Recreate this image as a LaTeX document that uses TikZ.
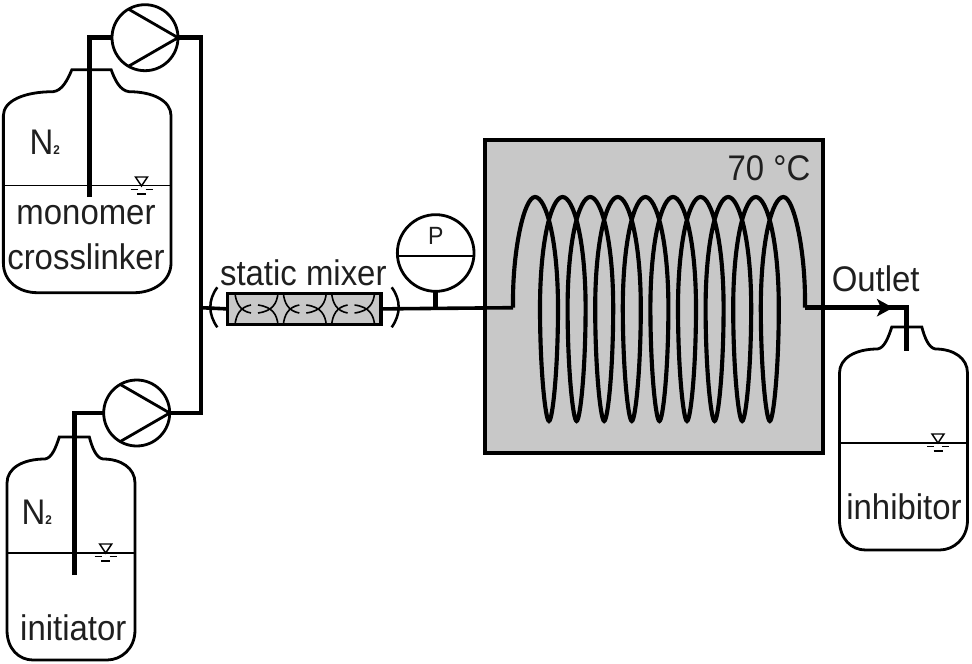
\documentclass[tikz,border=0pt]{standalone}
\usepackage{fontspec}
\setmainfont[FakeStretch=0.925]{Liberation Sans}
\usetikzlibrary{arrows.meta}

\tikzset{every picture/.style={line width=0.75pt}}
\tikzset{
	vessel/.style={line width=2.1pt},
	pipe/.style={line width=3.7pt},
	feedline/.style={line width=2.7pt},
	coilline/.style={line width=3.1pt},
	pumpbody/.style={draw,circle,line width=2.1pt,minimum size=49.5pt,inner sep=0pt,outer sep=0pt,fill=white},
	labeltext/.style={anchor=base,inner sep=0pt,text=black!88,font=\fontsize{26.7}{30}\selectfont},
	pics/bottle/.style={code={
		\draw [vessel] (-64,193) -- (-64,46) .. controls (-64,31) and (-48,22) .. (-26,22) .. controls (-19,21) and (-15,10) .. (-11.7,0) -- (18.3,0) .. controls (21,10) and (25,21) .. (32,22) .. controls (50,22) and (64,31) .. (64,46) -- (64,193) .. controls (64,212) and (50,223) .. (36,223) -- (-38,223) .. controls (-52,223) and (-64,212) .. (-64,193) -- cycle ;
		\draw [line width=0.8pt] (-64,116) -- (64,116) ;
	}},
	pics/levelmark/.style={code={
		\draw [line width=1.1pt] (-6,-9) -- (6,-9) -- (0,0) -- cycle ;
		\draw [line width=1.1pt] (-11,3.5) -- (-4,3.5) (4,3.5) -- (11,3.5) (-4.5,8) -- (4.5,8) ;
	}}
}

\begin{document}
\begin{tikzpicture}[x=0.75pt,y=0.75pt,yscale=-1,xscale=1]
	\useasboundingbox (0,0) rectangle (972,664);

	%Shape: Rectangle [heated bath]
	\draw [line width=3pt,fill={rgb, 255:red, 200; green, 200; blue, 200 }] (485,140) rectangle (822.5,453);

	%Shape: Bottles
	\pic at (87.2,69.7) [transform shape,xscale=1.31] {bottle};
	\pic at (71,437) [transform shape] {bottle};
	\pic at (903.5,327) [transform shape] {bottle};
	\pic at (141.5,186) [transform shape] {levelmark};
	\pic at (105.7,553) [transform shape] {levelmark};
	\pic at (938,443) [transform shape] {levelmark};

	%Shape: Pumps and gauge
	\node [pumpbody] (pumpA) at (145,37.7) {};
	\node [pumpbody] (pumpB) at (136.7,413) {};
	\node [pumpbody,minimum size=57.5pt] (gauge) at (435.7,253) {};
	\node [draw,line width=2.6pt,fill={rgb, 255:red, 200; green, 200; blue, 200 },minimum width=115pt,minimum height=23.1pt,inner sep=0pt,outer sep=0pt] (mixer) at (304.3,308.9) {};

	%Straight Lines [pump chevrons]
	\draw [vessel] (pumpA.120) -- (pumpA.east) -- (pumpA.240) ;
	\draw [vessel] (pumpB.120) -- (pumpB.east) -- (pumpB.240) ;
	\draw [line width=1.5pt] (gauge.184) -- (gauge.-4) ;

	%Curve Lines [mixer elements]
	\foreach \shiftx in {0,48.3,96.6} {
		\draw [line width=1.2pt,shift={(\shiftx,0)}] (235,293) .. controls (236,303) and (240,311) .. (251,313) ;
		\draw [line width=1.2pt,shift={(\shiftx,0)}] (235,325) .. controls (236,315) and (240,307) .. (251,305) ;
		\draw [line width=1.2pt,shift={(\shiftx,0)}] (278,293) .. controls (277,303) and (273,311) .. (258,313) ;
		\draw [line width=1.2pt,shift={(\shiftx,0)}] (278,325) .. controls (277,315) and (273,307) .. (258,305) ;
	}

	%Curve Lines [brackets]
	\draw [line width=1.9pt] (217.3,287.3) .. controls (208,300) and (208,314) .. (217.3,327.3) ;
	\draw [line width=1.9pt] (391.7,287.3) .. controls (401,300) and (401,314) .. (391.7,327.3) ;

	%Coordinates [pipe ends]
	\coordinate (dipA) at (89.5,197);
	\coordinate (dipB) at (74.5,575);
	\coordinate (riser) at (201,307.7);
	\coordinate (coilin) at (513,307.7);
	\coordinate (coilout) at (805,307.7);
	\coordinate (arrowtip) at (893,307.7);
	\coordinate (dipC) at (906.5,351);

	%Straight Lines [pipes]
	\draw [pipe] (dipA) |- (pumpA.west) ;
	\draw [pipe] (dipB) |- (pumpB.west) ;
	\draw [pipe] (pumpA.east) -| (riser) ;
	\draw [pipe] (pumpB.east) -| (riser) ;
	\draw [feedline] (riser) -- (mixer.west) ;
	\draw [feedline] (mixer.east) -- (coilin) ;
	\draw [pipe] (gauge.south) -- (gauge.south |- coilin) ;
	\draw [pipe] (coilout) -| (dipC) ;
	\draw [pipe,-{Stealth[length=12pt,width=13pt,inset=3pt]}] (coilout) -- (arrowtip) ;

	%Curve Lines [coil]
	\draw [coilline] (coilin) -- (513,300) .. controls (513,250) and (524,197) .. (535,197)
		foreach \turn in {0,...,8} {
			.. controls (535+27.6*\turn+11,197) and (535+27.6*\turn+23,240) .. (535+27.6*\turn+23,308)
			.. controls (535+27.6*\turn+23,370) and (535+27.6*\turn+17.5,421) .. (535+27.6*\turn+14,421)
			.. controls (535+27.6*\turn+10.5,421) and (535+27.6*\turn+5,370) .. (535+27.6*\turn+5,308)
			.. controls (535+27.6*\turn+5,240) and (535+27.6*\turn+16.6,197) .. (535+27.6*\turn+27.6,197)
		}
		.. controls (794,197) and (805,250) .. (805,300) -- (coilout) ;

	% Text Node
	\node [labeltext,anchor=base west] (gasA) at (29,154) {N{\fontsize{9.5}{10}\bfseries\selectfont 2}};
	% Text Node
	\node [labeltext] (monomer) at (86,224) {monomer};
	% Text Node
	\node [labeltext] (crosslinker) at (86,269) {crosslinker};
	% Text Node
	\node [labeltext,anchor=base west] (gasB) at (21,524) {N{\fontsize{9.5}{10}\bfseries\selectfont 2}};
	% Text Node
	\node [labeltext] (initiator) at (73.3,640.7) {initiator};
	% Text Node
	\node [labeltext] (mixerlabel) at (303.3,285) {static mixer};
	% Text Node
	\node [labeltext,font=\fontsize{18.7}{20}\selectfont] (gaugelabel) at (435.7,244.3) {P};
	% Text Node
	\node [labeltext] (bathlabel) at (769,180) {70 °C};
	% Text Node
	\node [labeltext] (outlet) at (875.7,291) {Outlet};
	% Text Node
	\node [labeltext] (inhibitor) at (904,519) {inhibitor};

\end{tikzpicture}
\end{document}
